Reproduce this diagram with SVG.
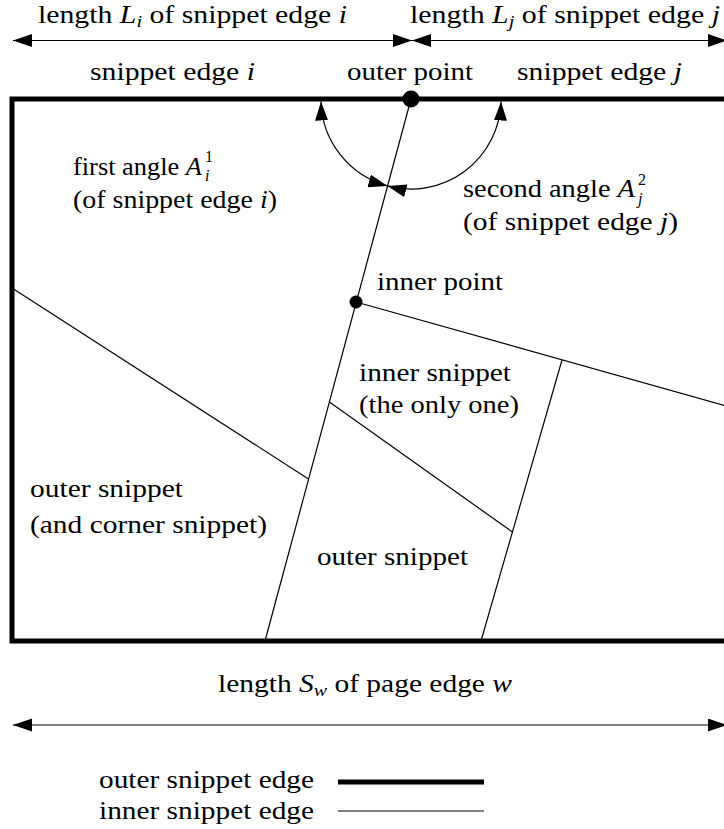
<svg xmlns="http://www.w3.org/2000/svg" width="724" height="829" viewBox="0 0 724 829">
<style>
.t text{font-size:25px;fill:#000}
.it{font-style:italic}
.sm{font-size:17px}
.xs{font-size:16px}
.thin{fill:none;stroke:#000;stroke-width:1.2}
.thick{fill:none;stroke:#000;stroke-width:5}
.arr{marker-start:url(#ah);marker-end:url(#ah)}
</style>
<defs>
<marker id="ah" markerUnits="userSpaceOnUse" markerWidth="20" markerHeight="14" refX="19" refY="6.5" orient="auto-start-reverse" viewBox="0 0 20 14">
<path d="M0,0 L19,6.5 L0,13 z" fill="#000"/>
</marker>
</defs>
<rect width="724" height="829" fill="#fff"/>

<g id="page">
<path class="thick" d="M730,99 H12 V641 H730"/>
</g>

<g id="connectors">
<line class="thin" x1="411" y1="99" x2="265" y2="641"/>
<line class="thin" x1="356" y1="302" x2="730" y2="407"/>
<line class="thin" x1="562" y1="360" x2="481" y2="641"/>
<line class="thin" x1="12" y1="288" x2="308.5" y2="479"/>
<line class="thin" x1="329.4" y1="402" x2="512.4" y2="532"/>
<path class="thin arr" d="M321,101.5 A90,90 0 0 0 387.5,185.9"/>
<path class="thin arr" d="M501,101.5 A90,90 0 0 1 387.5,185.9"/>
<line class="thin arr" x1="13" y1="40.5" x2="412" y2="40.5"/>
<line class="thin arr" x1="412" y1="40.5" x2="727" y2="40.5"/>
<line class="thin arr" x1="13" y1="725" x2="727" y2="725"/>
</g>

<g class="t" font-family="Liberation Serif, Times New Roman, DejaVu Serif, serif">
<g id="outer-point">
<circle cx="411" cy="99" r="8.5" fill="#000"/>
<text x="347" y="80" textLength="126" lengthAdjust="spacingAndGlyphs">outer point</text>
</g>

<g id="inner-point">
<circle cx="356" cy="302" r="6.5" fill="#000"/>
<text x="377" y="290" textLength="126" lengthAdjust="spacingAndGlyphs">inner point</text>
</g>

<g id="dim-labels">
<text x="38" y="23" textLength="309" lengthAdjust="spacingAndGlyphs">length <tspan class="it">L</tspan><tspan class="it sm" dy="4">i</tspan><tspan dy="-4"> of snippet edge </tspan><tspan class="it">i</tspan></text>
<text x="410" y="23" textLength="310" lengthAdjust="spacingAndGlyphs">length <tspan class="it">L</tspan><tspan class="it sm" dy="4">j</tspan><tspan dy="-4"> of snippet edge </tspan><tspan class="it">j</tspan></text>
<text x="218" y="692" textLength="294" lengthAdjust="spacingAndGlyphs">length <tspan class="it">S</tspan><tspan class="it sm" dy="4">w</tspan><tspan dy="-4"> of page edge </tspan><tspan class="it">w</tspan></text>
</g>

<g id="edge-i">
<text x="90" y="80" textLength="165" lengthAdjust="spacingAndGlyphs">snippet edge <tspan class="it">i</tspan></text>
</g>
<g id="edge-j">
<text x="517" y="80" textLength="165" lengthAdjust="spacingAndGlyphs">snippet edge <tspan class="it">j</tspan></text>
</g>

<g id="first-angle">
<text x="73" y="175"><tspan textLength="129" lengthAdjust="spacingAndGlyphs">first angle <tspan class="it">A</tspan></tspan><tspan class="xs" x="205" y="162">1</tspan><tspan class="xs it" x="205" y="181">i</tspan></text>
<text x="73" y="208" textLength="204" lengthAdjust="spacingAndGlyphs">(of snippet edge <tspan class="it">i</tspan>)</text>
</g>

<g id="second-angle">
<text x="463" y="197"><tspan textLength="172" lengthAdjust="spacingAndGlyphs">second angle <tspan class="it">A</tspan></tspan><tspan class="xs" x="638" y="185">2</tspan><tspan class="xs it" x="638" y="204">j</tspan></text>
<text x="463" y="230" textLength="215" lengthAdjust="spacingAndGlyphs">(of snippet edge <tspan class="it">j</tspan>)</text>
</g>

<g id="inner-snippet">
<text x="359" y="381" textLength="152" lengthAdjust="spacingAndGlyphs">inner snippet</text>
<text x="359" y="413" textLength="160" lengthAdjust="spacingAndGlyphs">(the only one)</text>
</g>

<g id="outer-corner-snippet">
<text x="30" y="497" textLength="153" lengthAdjust="spacingAndGlyphs">outer snippet</text>
<text x="30" y="533" textLength="237" lengthAdjust="spacingAndGlyphs">(and corner snippet)</text>
</g>

<g id="outer-snippet">
<text x="317" y="565" textLength="151" lengthAdjust="spacingAndGlyphs">outer snippet</text>
</g>

<g id="legend">
<text x="99" y="788" textLength="215" lengthAdjust="spacingAndGlyphs">outer snippet edge</text>
<line class="thick" x1="338" y1="782" x2="484" y2="782"/>
<text x="99" y="819" textLength="215" lengthAdjust="spacingAndGlyphs">inner snippet edge</text>
<line class="thin" x1="338" y1="811" x2="484" y2="811"/>
</g>
</g>
</svg>
